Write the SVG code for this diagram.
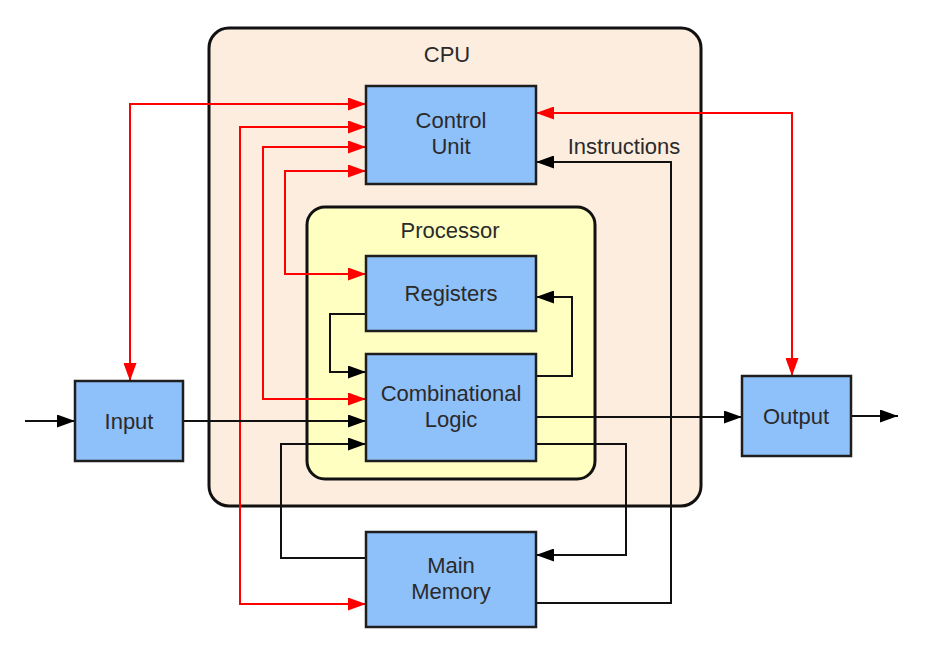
<svg xmlns="http://www.w3.org/2000/svg" width="935" height="648" viewBox="0 0 935 648">
<style>
.box{fill:#8ec0fa;stroke:#1e1e1e;stroke-width:2.5}
.t{font-family:"Liberation Sans",Arial,sans-serif;font-size:22px;fill:#2a2a2a;text-anchor:middle}
.k{fill:none;stroke:#111;stroke-width:2}
.r{fill:none;stroke:#f00;stroke-width:2}
</style>
<defs>
<marker id="ab" markerUnits="userSpaceOnUse" markerWidth="18" markerHeight="13" refX="18" refY="6.5" orient="auto-start-reverse"><path d="M0,0 L18,6.5 L0,13 z" fill="#000"/></marker>
<marker id="ar" markerUnits="userSpaceOnUse" markerWidth="18" markerHeight="13" refX="18" refY="6.5" orient="auto-start-reverse"><path d="M0,0 L18,6.5 L0,13 z" fill="#f00"/></marker>
</defs>
<rect width="935" height="648" fill="#fff"/>
<g id="cpu">
<rect x="209" y="28" width="492" height="478" rx="20" fill="#fdeddf" stroke="#111" stroke-width="3"/>
<text class="t" x="447" y="62">CPU</text>
</g>
<g id="processor">
<rect x="307" y="207" width="288" height="272" rx="18" fill="#ffffc2" stroke="#111" stroke-width="3"/>
<text class="t" x="450" y="238">Processor</text>
</g>
<g id="connectors">
<path class="r" d="M130,381 V104 H366" marker-start="url(#ar)" marker-end="url(#ar)"/>
<path class="r" d="M366,127 H240 V604 H366" marker-start="url(#ar)" marker-end="url(#ar)"/>
<path class="r" d="M366,147 H263 V399 H366" marker-start="url(#ar)" marker-end="url(#ar)"/>
<path class="r" d="M366,171 H285 V274 H366" marker-start="url(#ar)" marker-end="url(#ar)"/>
<path class="r" d="M536,113 H792 V376" marker-start="url(#ar)" marker-end="url(#ar)"/>
<path class="k" d="M536,603 H671 V162 H536" marker-end="url(#ab)"/>
<path class="k" d="M25,421 H75" marker-end="url(#ab)"/>
<path class="k" d="M183,421 H366" marker-end="url(#ab)"/>
<path class="k" d="M366,558 H281 V444 H366" marker-end="url(#ab)"/>
<path class="k" d="M536,444 H626 V555 H536" marker-end="url(#ab)"/>
<path class="k" d="M536,417 H742" marker-end="url(#ab)"/>
<path class="k" d="M851,416 H898" marker-end="url(#ab)"/>
<path class="k" d="M366,314 H330 V372 H366" marker-end="url(#ab)"/>
<path class="k" d="M536,376 H572 V297 H536" marker-end="url(#ab)"/>
</g>
<text class="t" x="624" y="154">Instructions</text>
<g id="control-unit">
<rect class="box" x="366" y="86" width="170" height="98"/>
<text class="t" x="451" y="128">Control</text>
<text class="t" x="451" y="154">Unit</text>
</g>
<g id="registers">
<rect class="box" x="366" y="256" width="170" height="75"/>
<text class="t" x="451" y="301">Registers</text>
</g>
<g id="combinational-logic">
<rect class="box" x="366" y="354" width="170" height="107"/>
<text class="t" x="451" y="401">Combinational</text>
<text class="t" x="451" y="427">Logic</text>
</g>
<g id="input">
<rect class="box" x="75" y="381" width="108" height="80"/>
<text class="t" x="129" y="429">Input</text>
</g>
<g id="output">
<rect class="box" x="742" y="376" width="109" height="80"/>
<text class="t" x="796" y="424">Output</text>
</g>
<g id="main-memory">
<rect class="box" x="366" y="532" width="170" height="95"/>
<text class="t" x="451" y="573">Main</text>
<text class="t" x="451" y="599">Memory</text>
</g>
</svg>
